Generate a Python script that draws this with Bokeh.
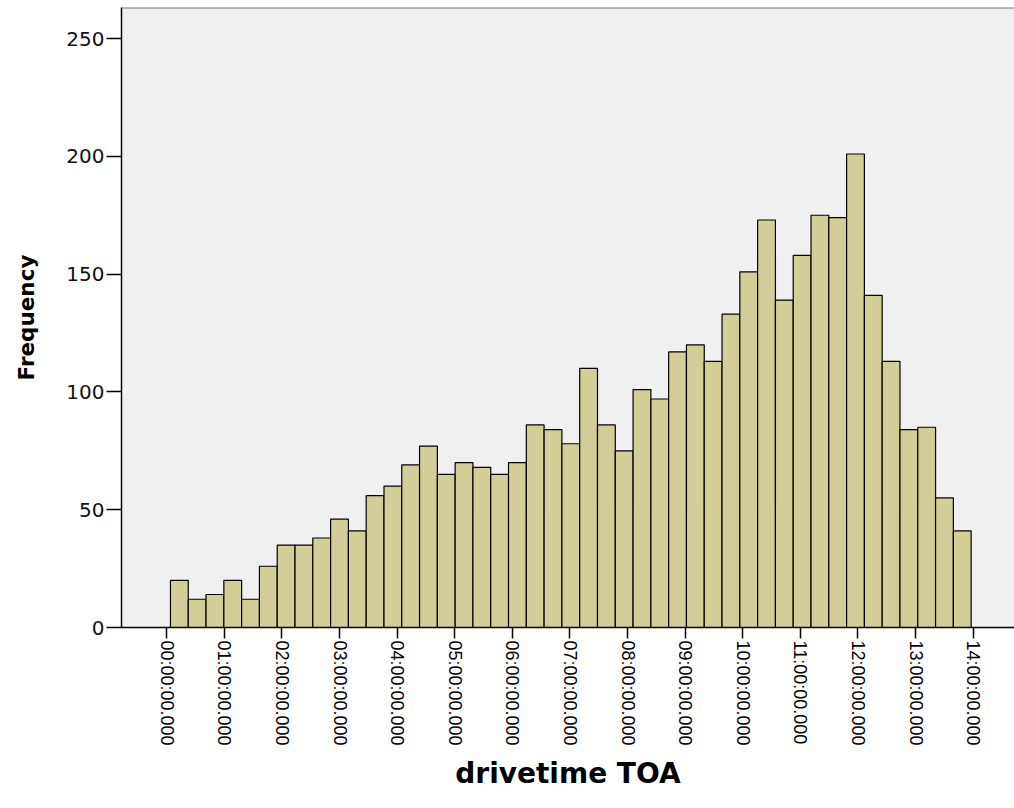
import math
from bokeh.plotting import figure
from bokeh.models import Range1d, FixedTicker, Span, ColumnDataSource
from bokeh.embed import file_html
from bokeh.resources import INLINE

# ---- data ----
frequencies = [20, 12, 14, 20, 12, 26, 35, 35, 38, 46, 41, 56, 60, 69, 77,
               65, 70, 68, 65, 70, 86, 84, 78, 110, 86, 75, 101, 97, 117, 120,
               113, 133, 151, 173, 139, 158, 175, 174, 201, 141, 113, 84, 85, 55, 41]
bin_start_hours = 0.064
bin_width_hours = 0.3089
tick_hours = list(range(15))
tick_labels = [f"{h:02d}:00:00.000" for h in tick_hours]
y_ticks = [0, 50, 100, 150, 200, 250]
x_title = "drivetime TOA"
y_title = "Frequency"

lefts = [bin_start_hours + i * bin_width_hours for i in range(len(frequencies))]
rights = [l + bin_width_hours for l in lefts]
src = ColumnDataSource(dict(left=lefts, right=rights, top=frequencies,
                            bottom=[0] * len(frequencies)))

Y_END = 263.2
p = figure(width=1014, height=805, output_backend="svg", toolbar_location=None,
           x_range=Range1d(-0.786, 14.717), y_range=Range1d(0, Y_END),
           min_border_left=121, min_border_right=0, min_border_top=7,
           min_border_bottom=178)

p.background_fill_color = "#F0F0F0"
p.border_fill_color = "white"
p.outline_line_color = None
p.xgrid.visible = False
p.ygrid.visible = False

p.quad(left="left", right="right", top="top", bottom="bottom", source=src,
       fill_color="#D3CE97", line_color="black", line_width=1.2)

top_line = Span(location=Y_END, dimension="width", line_color="#7a7a7a", line_width=2)
p.add_layout(top_line)

# x axis
xa = p.xaxis[0]
xa.ticker = FixedTicker(ticks=tick_hours)
xa.major_label_overrides = {h: lab for h, lab in zip(tick_hours, tick_labels)}
xa.major_label_orientation = -math.pi / 2
xa.major_label_text_font = "Liberation Sans"
xa.major_label_text_font_size = "18px"
xa.major_label_text_color = "black"
xa.major_label_standoff = 2
xa.major_tick_out = 11
xa.major_tick_in = 0
xa.major_tick_line_color = "black"
xa.major_tick_line_width = 1.5
xa.minor_tick_line_color = None
xa.axis_line_color = "black"
xa.axis_line_width = 1.5
xa.axis_label = x_title
xa.axis_label_text_font = "DejaVu Sans"
xa.axis_label_text_font_style = "bold"
xa.axis_label_text_font_size = "28px"
xa.axis_label_text_color = "black"
xa.axis_label_standoff = 8

# y axis
ya = p.yaxis[0]
ya.ticker = FixedTicker(ticks=y_ticks)
ya.major_label_text_font = "DejaVu Sans"
ya.major_label_text_font_size = "20px"
ya.major_label_text_color = "#111111"
ya.major_label_standoff = 2
ya.major_tick_out = 15
ya.major_tick_in = 0
ya.major_tick_line_color = "black"
ya.major_tick_line_width = 1.5
ya.minor_tick_line_color = None
ya.axis_line_color = "black"
ya.axis_line_width = 1.5
ya.axis_label = y_title
ya.axis_label_text_font = "DejaVu Sans"
ya.axis_label_text_font_style = "bold"
ya.axis_label_text_font_size = "21.5px"
ya.axis_label_text_color = "black"
ya.axis_label_standoff = 24

open("out.html", "w").write(file_html(p, INLINE))
